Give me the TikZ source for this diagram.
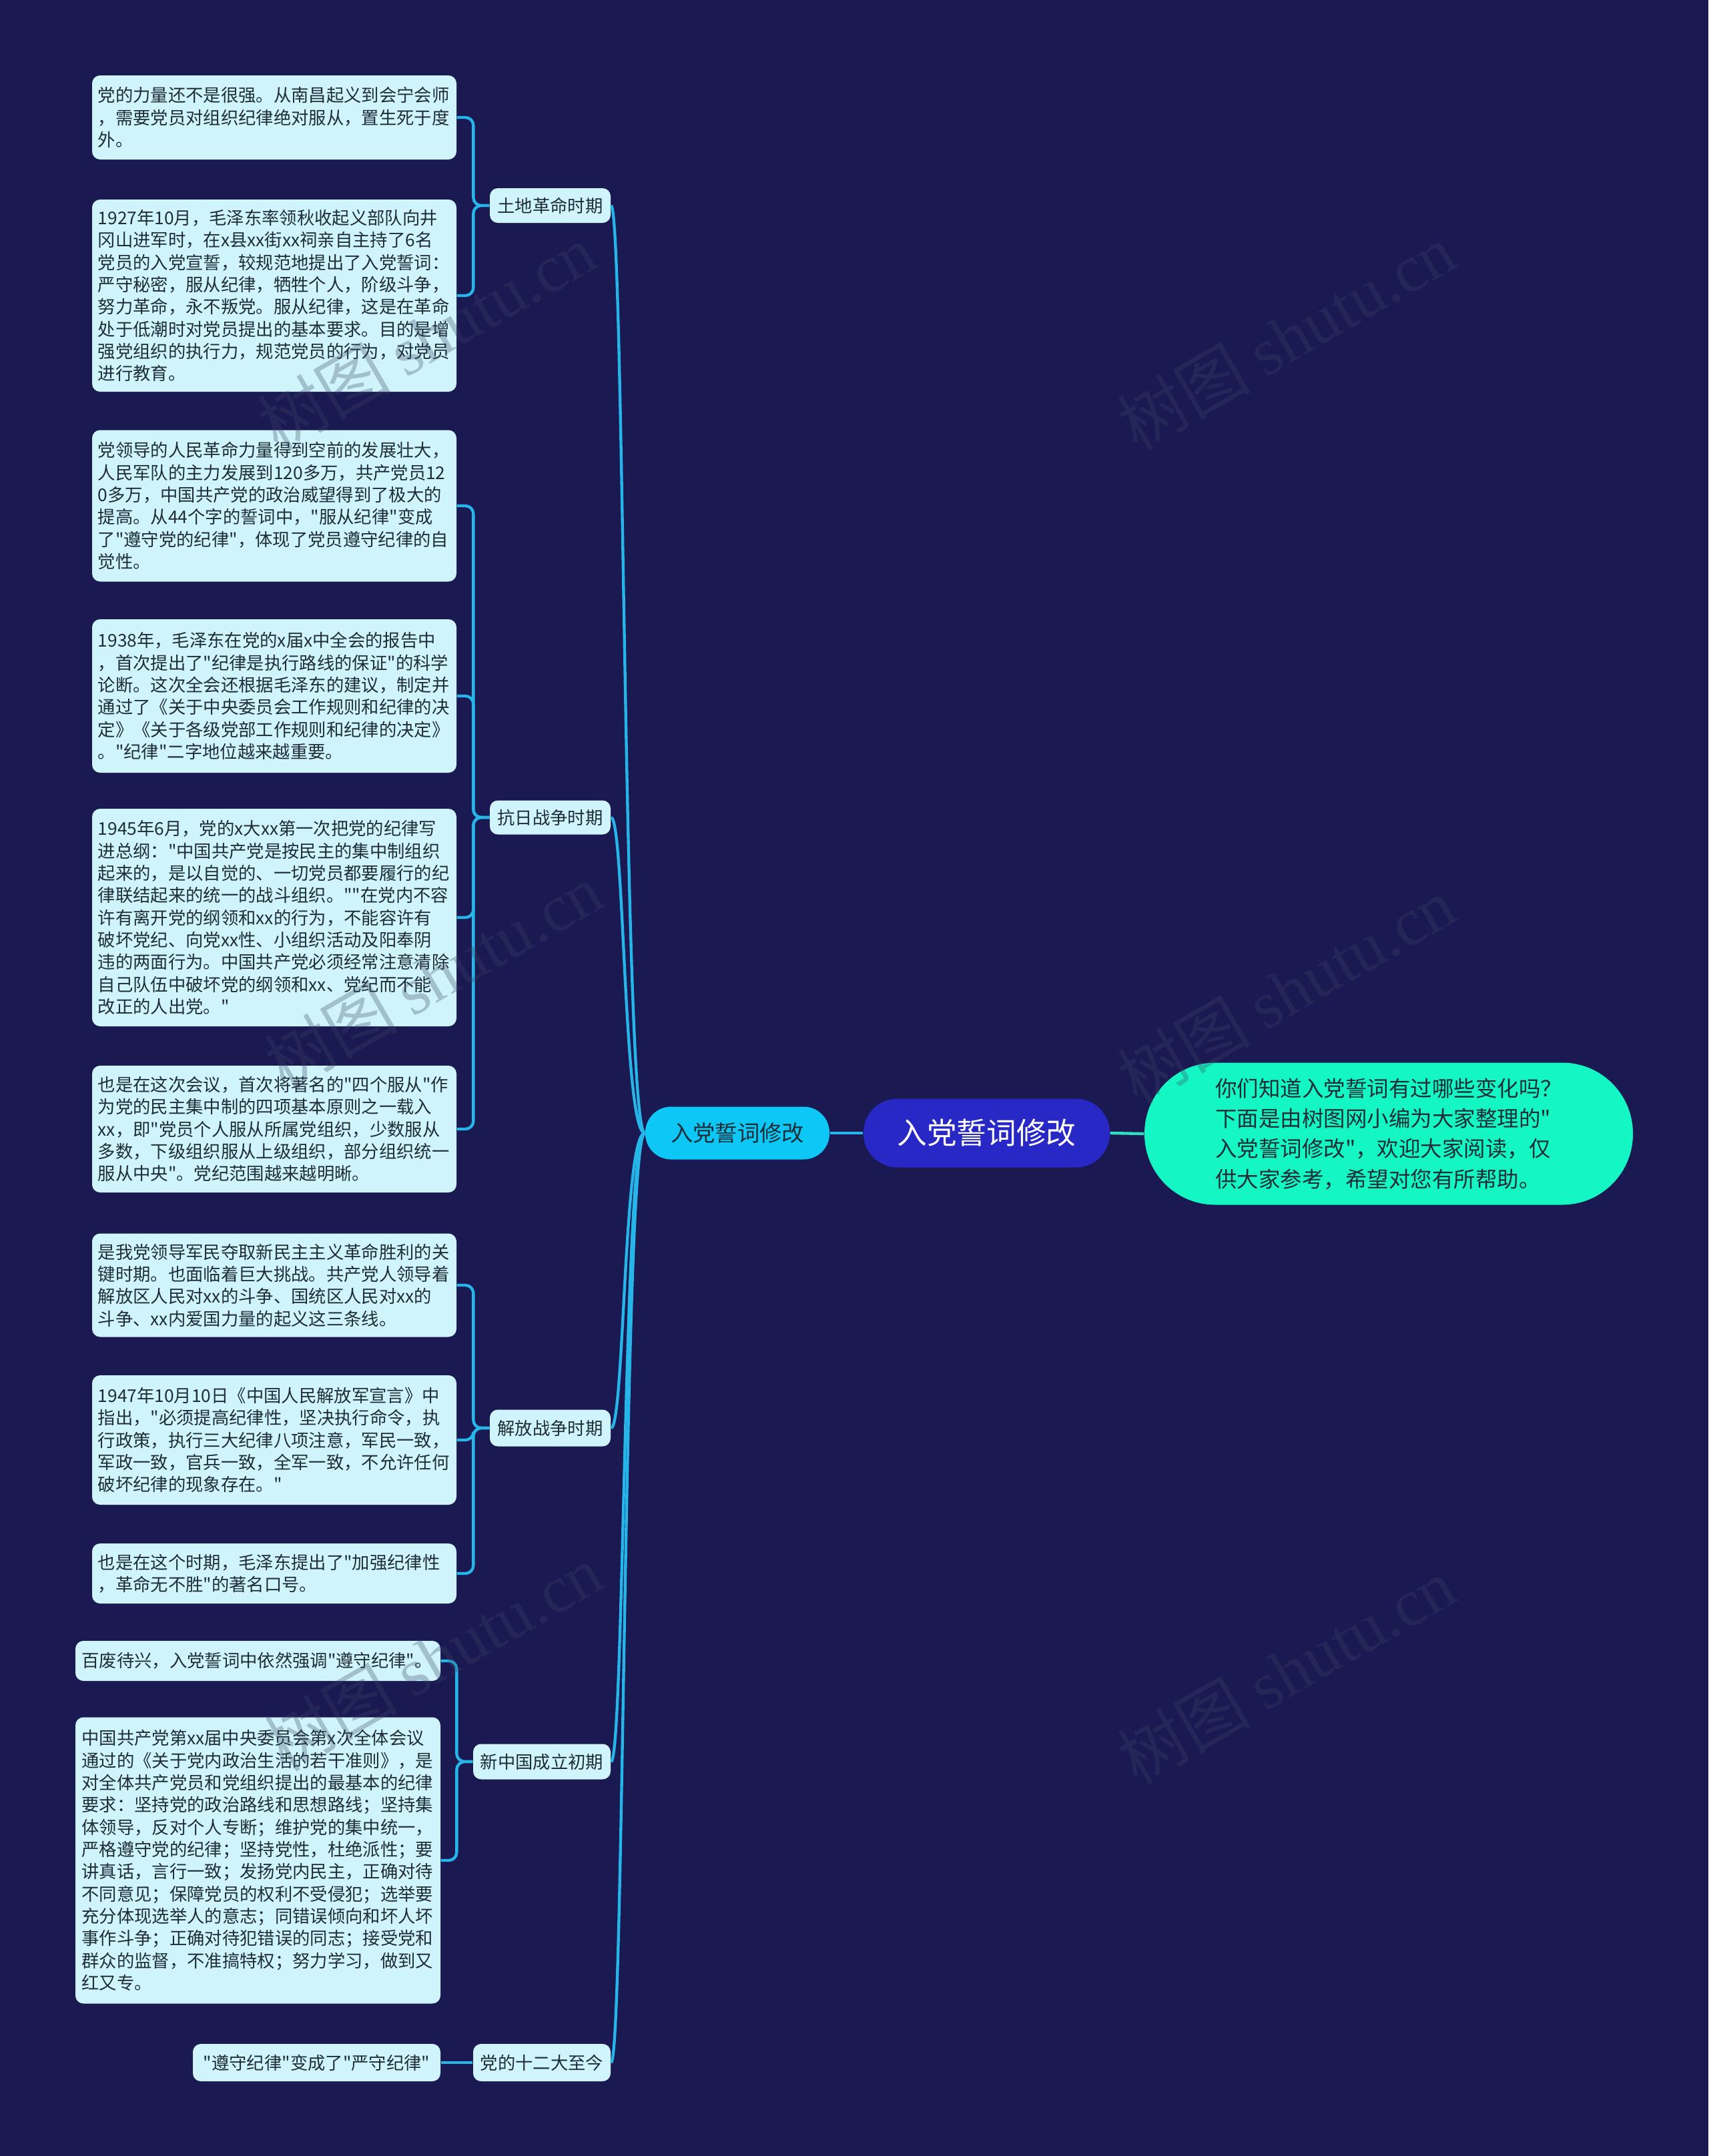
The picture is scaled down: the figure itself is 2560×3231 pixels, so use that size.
\documentclass[tikz,border=0pt]{standalone}
\usepackage{fontspec}
\setmainfont{Noto Sans CJK SC}[Ligatures=TeXOff]
\newfontfamily\wmlatin{Liberation Serif}
\definecolor{bgc}{HTML}{1A1952}
\definecolor{connc}{HTML}{25B5E8}
\definecolor{mintc}{HTML}{2EE0C2}
\definecolor{topicfill}{HTML}{0DC8F6}
\definecolor{centerfill}{HTML}{2828C6}
\definecolor{rightfill}{HTML}{14F6C4}
\definecolor{boxfill}{HTML}{CFF4FC}
\definecolor{boxtext}{HTML}{1F2D36}
\definecolor{wmc}{HTML}{3C4664}
\tikzset{
  sz/.style 2 args={minimum width=#1*0.3pt, minimum height=#2*0.3pt},
  box/.style={fill=boxfill, rounded corners=3.6pt, text=boxtext, inner sep=0pt,
    font=\fontsize{7.9pt}{10pt}\selectfont, align=left, text width=158.5pt},
  cbox/.style={fill=boxfill, rounded corners=3.6pt, text=boxtext, inner sep=0pt,
    font=\fontsize{7.9pt}{10pt}\selectfont, align=center},
  lab/.style={fill=boxfill, rounded corners=3.6pt, text=boxtext, inner sep=0pt,
    font=\fontsize{7.9pt}{10pt}\selectfont},
  topic/.style={fill=topicfill, rounded corners=11.6pt, text=boxtext, inner sep=0pt,
    font=\fontsize{10pt}{12pt}\selectfont},
  center/.style={fill=centerfill, rounded corners=15.2pt, text=white, inner sep=0pt,
    font=\fontsize{13.4pt}{16pt}\selectfont},
  rightn/.style={fill=rightfill, rounded corners=31.8pt, text=boxtext, inner sep=0pt,
    font=\fontsize{9.75pt}{13.6pt}\selectfont, align=left},
  conn/.style={draw=connc, line width=1.3pt},
  mint/.style={draw=mintc, line width=1.3pt},
  wm/.style={text=wmc, text opacity=0.3, font=\fontsize{30pt}{32pt}\selectfont, inner sep=0pt}
}
\begin{document}
\begin{tikzpicture}[x=0.3pt,y=-0.3pt]
\fill[bgc] (0,0) rectangle (2560,3231);
\useasboundingbox (0,0) rectangle (2560,3231);

% central nodes
\node[center, sz={369}{103}] (c) at (1478.5,1698) {入党誓词修改};
\node[topic, sz={276}{79}] (t) at (1105,1698) {入党誓词修改};
\node[rightn, sz={732}{213}] (r) at (2081,1699) {你们知道入党誓词有过哪些变化吗？\\下面是由树图网小编为大家整理的"\\入党誓词修改"，欢迎大家阅读，仅\\供大家参考，希望对您有所帮助。};

% labels
\node[lab, sz={181}{52}] (l1) at (824.5,308) {土地革命时期};
\node[lab, sz={181}{51}] (l2) at (824.5,1225) {抗日战争时期};
\node[lab, sz={181}{55}] (l3) at (824.5,2140) {解放战争时期};
\node[lab, sz={206}{53}] (l4) at (812,2640) {新中国成立初期};
\node[lab, sz={206}{56}] (l5) at (812,3091) {党的十二大至今};

% leaf boxes
\node[box, sz={546}{126}] (b1) at (411,176) {党的力量还不是很强。从南昌起义到会宁会师\\，需要党员对组织纪律绝对服从，置生死于度\\外。};
\node[box, sz={546}{288}] (b2) at (411,443) {1927年10月，毛泽东率领秋收起义部队向井\\冈山进军时，在x县xx街xx祠亲自主持了6名\\党员的入党宣誓，较规范地提出了入党誓词：\\严守秘密，服从纪律，牺牲个人，阶级斗争，\\努力革命，永不叛党。服从纪律，这是在革命\\处于低潮时对党员提出的基本要求。目的是增\\强党组织的执行力，规范党员的行为，对党员\\进行教育。};
\node[box, sz={546}{227}] (b3) at (411,758) {党领导的人民革命力量得到空前的发展壮大，\\人民军队的主力发展到120多万，共产党员12\\0多万，中国共产党的政治威望得到了极大的\\提高。从44个字的誓词中，"服从纪律"变成\\了"遵守党的纪律"，体现了党员遵守纪律的自\\觉性。};
\node[box, sz={546}{230}] (b4) at (411,1043) {1938年，毛泽东在党的x届x中全会的报告中\\，首次提出了"纪律是执行路线的保证"的科学\\论断。这次全会还根据毛泽东的建议，制定并\\通过了《关于中央委员会工作规则和纪律的决\\定》《关于各级党部工作规则和纪律的决定》\\。"纪律"二字地位越来越重要。};
\node[box, sz={546}{326}] (b5) at (411,1375) {1945年6月，党的x大xx第一次把党的纪律写\\进总纲："中国共产党是按民主的集中制组织\\起来的，是以自觉的、一切党员都要履行的纪\\律联结起来的统一的战斗组织。""在党内不容\\许有离开党的纲领和xx的行为，不能容许有\\破坏党纪、向党xx性、小组织活动及阳奉阴\\违的两面行为。中国共产党必须经常注意清除\\自己队伍中破坏党的纲领和xx、党纪而不能\\改正的人出党。"};
\node[box, sz={546}{190}] (b6) at (411,1692) {也是在这次会议，首次将著名的"四个服从"作\\为党的民主集中制的四项基本原则之一载入\\xx，即"党员个人服从所属党组织，少数服从\\多数，下级组织服从上级组织，部分组织统一\\服从中央"。党纪范围越来越明晰。};
\node[box, sz={546}{155}] (b7) at (411,1926) {是我党领导军民夺取新民主主义革命胜利的关\\键时期。也面临着巨大挑战。共产党人领导着\\解放区人民对xx的斗争、国统区人民对xx的\\斗争、xx内爱国力量的起义这三条线。};
\node[box, sz={546}{194}] (b8) at (411,2158) {1947年10月10日《中国人民解放军宣言》中\\指出，"必须提高纪律性，坚决执行命令，执\\行政策，执行三大纪律八项注意，军民一致，\\军政一致，官兵一致，全军一致，不允许任何\\破坏纪律的现象存在。"};
\node[box, sz={546}{90}] (b9) at (411,2358) {也是在这个时期，毛泽东提出了"加强纪律性\\，革命无不胜"的著名口号。};
\node[box, sz={547}{60}] (b10) at (386.5,2489) {百废待兴，入党誓词中依然强调"遵守纪律"。};
\node[box, sz={547}{429}] (b11) at (386.5,2788) {中国共产党第xx届中央委员会第x次全体会议\\通过的《关于党内政治生活的若干准则》，是\\对全体共产党员和党组织提出的最基本的纪律\\要求：坚持党的政治路线和思想路线；坚持集\\体领导，反对个人专断；维护党的集中统一，\\严格遵守党的纪律；坚持党性，杜绝派性；要\\讲真话，言行一致；发扬党内民主，正确对待\\不同意见；保障党员的权利不受侵犯；选举要\\充分体现选举人的意志；同错误倾向和坏人坏\\事作斗争；正确对待犯错误的同志；接受党和\\群众的监督，不准搞特权；努力学习，做到又\\红又专。};
\node[cbox, sz={371}{56}] (b12) at (474.5,3091) {"遵守纪律"变成了"严守纪律"};

% center links
\draw[conn] (t.east) -- (c.west);
\draw[mint] (c.east) -- (r.west);

% topic -> labels
\foreach \L in {l1,l2,l3,l4,l5}{
  \draw[conn] (t.west) .. controls +(-32,0) and +(20,0) .. (\L.east);
}

% labels -> leaves
\foreach \L/\B in {l1/b1,l1/b2,l2/b3,l2/b4,l2/b5,l2/b6,l3/b7,l3/b8,l3/b9,l4/b10,l4/b11}{
  \draw[conn, rounded corners=3.6pt] (\L.west) -- ++(-24,0) |- (\B.east);
}
\draw[conn] (l5.west) -- (b12.east);

% watermarks
\node[wm, rotate=30] (w1) at (639,505) {树图 {\wmlatin shutu.cn}};
\node[wm, rotate=30] (w2) at (1927,505) {树图 {\wmlatin shutu.cn}};
\node[wm, rotate=30] (w3) at (649,1463) {树图 {\wmlatin shutu.cn}};
\node[wm, rotate=30] (w4) at (1927,1484) {树图 {\wmlatin shutu.cn}};
\node[wm, rotate=30] (w5) at (649,2484) {树图 {\wmlatin shutu.cn}};
\node[wm, rotate=30] (w6) at (1927,2504) {树图 {\wmlatin shutu.cn}};
\end{tikzpicture}
\end{document}
